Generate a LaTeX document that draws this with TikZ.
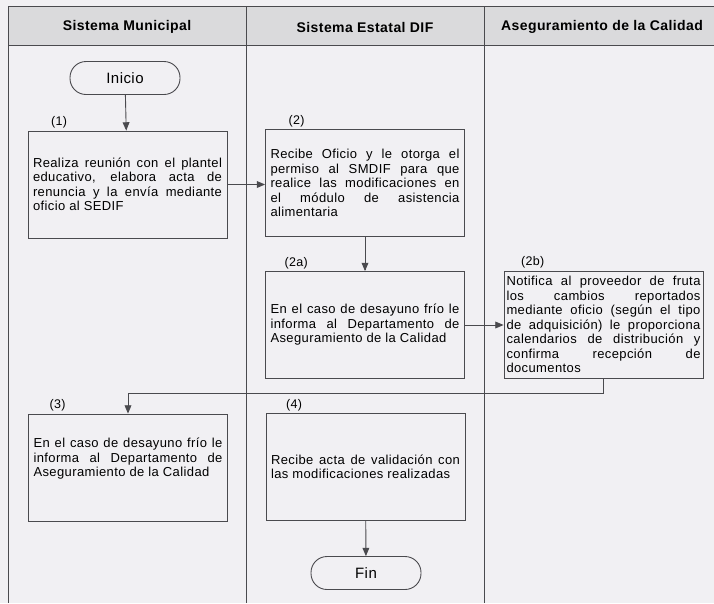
\documentclass[tikz,border=0pt]{standalone}
\usepackage{fontspec}
\setmainfont{Liberation Sans}[LetterSpace=3]
\usepackage{tikz}
\usetikzlibrary{calc}
\usetikzlibrary{arrows}
\usetikzlibrary{positioning}
\definecolor{fondo}{HTML}{F1F0F3}
\definecolor{cabeza}{HTML}{DADADC}
\definecolor{linea}{HTML}{4A4A4E}

\begin{document}
\begin{tikzpicture}[x=1pt,y=-1pt,line width=0.9pt,draw=linea,
    paso/.style={draw=linea,rectangle,minimum width=199pt,minimum height=107pt,
        text width=189pt,inner xsep=4pt,align=justify,font=\fontsize{13}{14.5}\selectfont},
    terminal/.style={draw=linea,rectangle,rounded corners=16pt,minimum width=110pt,
        minimum height=33pt,font=\fontsize{15}{17}\selectfont},
    numero/.style={font=\fontsize{12.5}{14}\selectfont,inner sep=1pt},
    carril/.style={font=\bfseries\fontsize{14}{16}\selectfont},
    flecha/.style={-triangle 45,draw=linea}]
        \useasboundingbox (0,0) rectangle (714,603);
        \fill[fondo] (0,0) rectangle (714,603);
        % carriles
        \fill[cabeza] (8,6) rectangle (714,45);
        \draw (8,6) -- (714,6);
        \draw (8,45) -- (714,45);
        \draw (8,6) -- (8,603);
        \draw (246,6) -- (246,603);
        \draw (484,6) -- (484,603);
        \node[carril] (hSM) at (127,27) {Sistema Municipal};
        \node[carril] (hSE) at (365,27) {Sistema Estatal DIF};
        \node[carril] (hAC) at (602,27) {Aseguramiento de la Calidad};

        % pasos
        \node[terminal] (inicio) at (125,78) {Inicio};
        \node[paso] (b1) at (127.5,184.5) {Realiza reunión con el plantel\linebreak
            educativo, elabora acta de\linebreak renuncia y la envía mediante\linebreak oficio al SEDIF};
        \node[paso] (b2) at (365,183) {Recibe Oficio y le otorga el\linebreak
            permiso al SMDIF para que\linebreak realice las modificaciones en\linebreak
            el módulo de asistencia\linebreak alimentaria};
        \node[paso] (b2a) at (365,325) {En el caso de desayuno frío le\linebreak
            informa al Departamento de\linebreak Aseguramiento de la Calidad};
        \node[paso,text width=194pt,inner xsep=1.5pt] (b2b) at (603.5,324.5) {Notifica al proveedor de fruta\linebreak
            los cambios reportados\linebreak mediante oficio (según el tipo\linebreak
            de adquisición) le proporciona\linebreak calendarios de distribución y\linebreak
            confirma recepción de\linebreak documentos};
        \node[paso] (b3) at (128,467.5) {En el caso de desayuno frío le\linebreak
            informa al Departamento de\linebreak Aseguramiento de la Calidad\par\rule[-6pt]{0pt}{14pt}};
        \node[paso] (b4) at (365.5,467) {Recibe acta de validación con\linebreak
            las modificaciones realizadas};
        \node[terminal] (fin) at (366,573) {Fin};

        % numeros
        \node[numero,above right=1pt and 22pt of b1.north west] (n1) {(1)};
        \node[numero,above right=1pt and 22pt of b2.north west] (n2) {(2)};
        \node[numero,above right=1pt and 18pt of b2a.north west] (n2a) {(2a)};
        \node[numero,above right=1pt and 16pt of b2b.north west] (n2b) {(2b)};
        \node[numero,above right=1pt and 20pt of b3.north west] (n3) {(3)};
        \node[numero,above right=1pt and 19pt of b4.north west] (n4) {(4)};

        % conectores
        \draw[flecha] (inicio) -- (b1);
        \draw[flecha] (b1.east) -- (b1.east -| b2.west);
        \draw[flecha] (b2) -- (b2a);
        \draw[flecha] (b2a.east) -- (b2a.east -| b2b.west);
        \draw[flecha] (b2b.south) -- ++(0,15) -| (b3.north);
        \draw[flecha] (b4) -- (fin);
    \end{tikzpicture}
\end{document}
